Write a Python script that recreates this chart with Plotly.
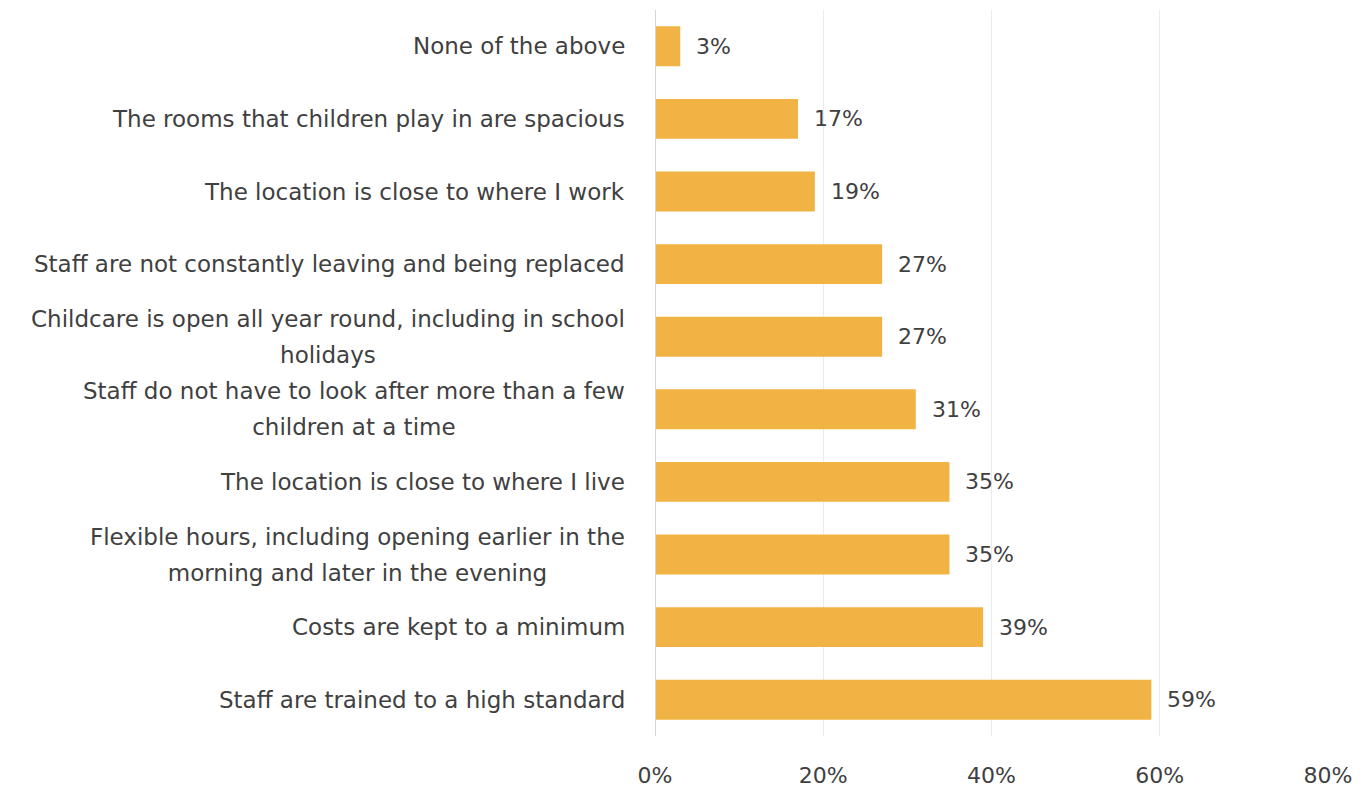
import plotly.graph_objects as go

# Survey responses, bottom-to-top order on the chart
categories = [
    "Staff are trained to a high standard",
    "Costs are kept to a minimum",
    "Flexible hours, including opening earlier in the<br>morning and later in the evening",
    "The location is close to where I live",
    "Staff do not have to look after more than a few<br>children at a time",
    "Childcare is open all year round, including in school<br>holidays",
    "Staff are not constantly leaving and being replaced",
    "The location is close to where I work",
    "The rooms that children play in are spacious",
    "None of the above",
]
shares = [0.59, 0.39, 0.35, 0.35, 0.31, 0.27, 0.27, 0.19, 0.17, 0.03]
x_ticks = [0, 0.2, 0.4, 0.6, 0.8]
x_tick_labels = ["0%", "20%", "40%", "60%", "80%"]

BAR_COLOR = "#F1B343"
TEXT_COLOR = "#404040"
FONT = "DejaVu Sans"
NUM_SIZE = 22                      # tick and value labels
LABEL_SIZE = 23                    # category labels
LINE_GAP = 36                      # distance between wrapped label lines
BLANK_LINES = 2                    # spacer lines inserted between wrapped lines
BASE_SIZE = LINE_GAP / (1.3 * (BLANK_LINES + 1))   # tiny base font sets the line pitch

fig = go.Figure()
fig.add_trace(go.Bar(
    x=shares,
    y=categories,
    orientation="h",
    marker=dict(color=BAR_COLOR, line=dict(width=0)),
    hoverinfo="skip",
))

annotations = []
# Value labels to the right of each bar
for cat, val in zip(categories, shares):
    annotations.append(dict(
        x=val, y=cat, xref="x", yref="y",
        text=f"{round(val * 100)}%",
        showarrow=False, xanchor="left", yanchor="middle",
        xshift=14, font=dict(family=FONT, size=NUM_SIZE, color=TEXT_COLOR),
    ))

# Category labels: right-aligned block, wrapped lines centred under each other
for cat in categories:
    lines = cat.split("<br>")
    if len(lines) == 1:
        annotations.append(dict(
            x=0, y=cat, xref="x", yref="y", text=cat, showarrow=False,
            xanchor="right", yanchor="middle", xshift=-28,
            font=dict(family=FONT, size=LABEL_SIZE, color=TEXT_COLOR),
        ))
        continue
    big = [f"<span style='font-size:{LABEL_SIZE}px'>{l}</span>" for l in lines]
    text = ("<br>" * (BLANK_LINES + 1)).join(big)
    annotations.append(dict(
        x=0, y=cat, xref="x", yref="y", text=text, showarrow=False,
        xanchor="right", yanchor="middle", align="center", xshift=-28,
        font=dict(family=FONT, size=BASE_SIZE, color=TEXT_COLOR),
    ))

fig.update_layout(
    width=1367, height=787,
    margin=dict(l=655, r=39, t=10, b=51, autoexpand=False),
    paper_bgcolor="white", plot_bgcolor="white",
    showlegend=False,
    bargap=0.45,
    font=dict(family=FONT, size=NUM_SIZE, color=TEXT_COLOR),
    annotations=annotations,
)
fig.update_xaxes(
    range=[0, 0.8],
    tickvals=x_ticks, ticktext=x_tick_labels,
    showgrid=True, gridcolor="#EBEBEB", gridwidth=1,
    zeroline=False, showline=False, automargin=False,
    ticks="", ticklabelstandoff=24,
    tickfont=dict(family=FONT, size=NUM_SIZE, color=TEXT_COLOR),
    fixedrange=True,
)
fig.update_yaxes(
    showticklabels=False, showgrid=False, zeroline=False, automargin=False,
    showline=False, ticks="", fixedrange=True,
)
# Baseline at 0%
fig.add_shape(type="line", xref="x", yref="paper", x0=0, x1=0, y0=0, y1=1,
              line=dict(color="#D4D4D4", width=2))

fig.write_html("out.html")
